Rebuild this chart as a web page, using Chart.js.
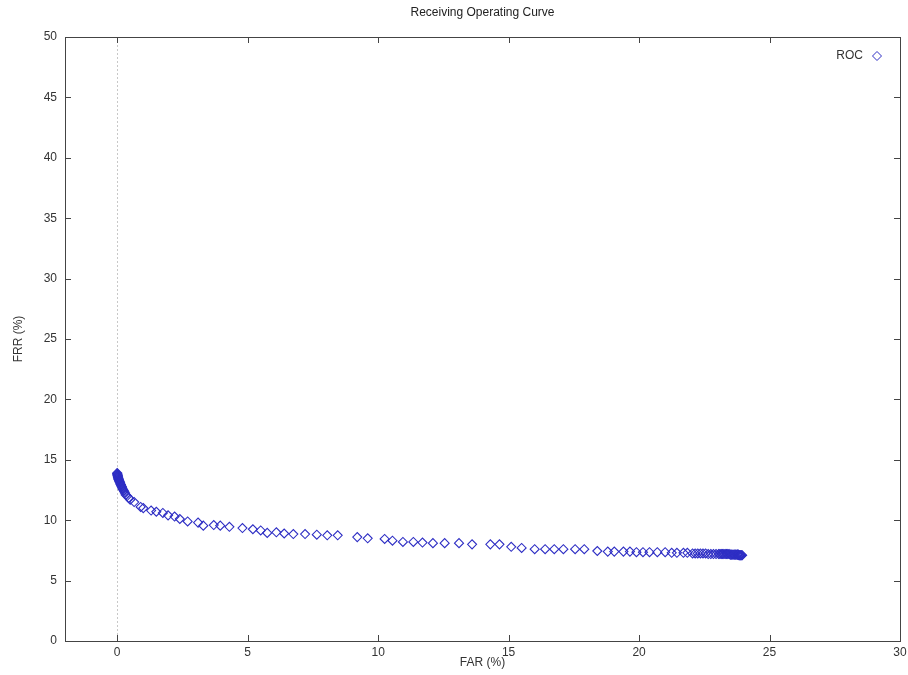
<!DOCTYPE html>
<html>
<head>
<meta charset="utf-8">
<title>Receiving Operating Curve</title>
<script src="https://cdn.jsdelivr.net/npm/chart.js@4/dist/chart.umd.min.js"></script>
<style>
  html, body { margin: 0; padding: 0; background: #fff; }
  #wrap { width: 908px; height: 675px; }
</style>
</head>
<body>
<div id="wrap"><canvas id="rocChart" width="908" height="675"></canvas></div>
<script>
// FAR (%) and FRR (%)
const far = [
  0.00, 0.00, 0.01, 0.01, 0.02, 0.02, 0.03, 0.03, 0.04, 0.05, 0.05, 0.06, 0.07, 0.08, 0.09, 0.10,
  0.11, 0.12, 0.14, 0.15, 0.17, 0.18, 0.20, 0.22, 0.25, 0.27, 0.30, 0.32, 0.38, 0.44,
  0.50, 0.65, 0.90, 1.00, 1.30, 1.50, 1.75, 1.95, 2.20, 2.40, 2.70, 3.10, 3.30, 3.70, 3.95, 4.30,
  4.80, 5.20, 5.50, 5.75, 6.10, 6.40, 6.75, 7.20, 7.65, 8.05, 8.45, 9.20, 9.60, 10.25, 10.55, 10.95,
  11.35, 11.70, 12.10, 12.55, 13.10, 13.60, 14.30, 14.65, 15.10, 15.50, 16.00, 16.40, 16.75, 17.10,
  17.55, 17.90, 18.40, 18.80, 19.05, 19.40, 19.65, 19.90, 20.15, 20.40, 20.70, 21.00, 21.25, 21.45,
  21.70, 21.85, 22.05, 22.15, 22.25, 22.35, 22.45, 22.55, 22.65, 22.75, 22.85, 22.95, 23.05, 23.10,
  23.15, 23.20, 23.25, 23.30, 23.35, 23.40, 23.45, 23.50, 23.55, 23.60, 23.65, 23.70, 23.75, 23.78,
  23.80, 23.83, 23.85, 23.88, 23.90, 23.93, 23.95
];
const frr = [
  13.9, 13.85, 13.8, 13.75, 13.7, 13.65, 13.6, 13.55, 13.5, 13.45, 13.4, 13.35, 13.3, 13.25, 13.2, 13.15,
  13.1, 13.0, 12.95, 12.9, 12.8, 12.75, 12.65, 12.55, 12.45, 12.35, 12.25, 12.1, 12.0, 11.85,
  11.7, 11.5, 11.1, 11.0, 10.8, 10.7, 10.6, 10.4, 10.3, 10.1, 9.9, 9.8, 9.55, 9.6, 9.55, 9.45,
  9.35, 9.25, 9.15, 8.95, 9.0, 8.9, 8.85, 8.85, 8.8, 8.75, 8.75, 8.6, 8.5, 8.45, 8.3, 8.2,
  8.2, 8.15, 8.1, 8.1, 8.1, 8.0, 8.0, 8.0, 7.8, 7.7, 7.6, 7.6, 7.6, 7.6,
  7.6, 7.6, 7.45, 7.4, 7.4, 7.4, 7.4, 7.35, 7.35, 7.35, 7.35, 7.35, 7.3, 7.3,
  7.3, 7.3, 7.25, 7.25, 7.25, 7.25, 7.25, 7.25, 7.2, 7.2, 7.2, 7.2, 7.2, 7.2,
  7.2, 7.2, 7.2, 7.2, 7.2, 7.2, 7.2, 7.15, 7.15, 7.15, 7.15, 7.15, 7.15, 7.15,
  7.15, 7.1, 7.1, 7.1, 7.1, 7.1, 7.1
];
const xTickValues = [0, 5, 10, 15, 20, 25, 30];
const yTickValues = [0, 5, 10, 15, 20, 25, 30, 35, 40, 45, 50];
const seriesName = "ROC";

const markerColor = "#2e2ec4";
const textFont = { family: "'Liberation Sans', Arial, sans-serif", size: 12 };

// box round the plot, inward ticks on every side, dashed line at FAR = 0, legend
const framePlugin = {
  id: "frame",
  beforeDatasetsDraw(chart) {
    const ctx = chart.ctx;
    const area = chart.chartArea;
    const x0 = Math.round(chart.scales.x.getPixelForValue(0)) + 0.5;
    ctx.save();
    ctx.strokeStyle = "#c8c8c8";
    ctx.lineWidth = 1;
    ctx.setLineDash([2, 2]);
    ctx.beginPath();
    ctx.moveTo(x0, area.top);
    ctx.lineTo(x0, area.bottom);
    ctx.stroke();
    ctx.restore();
  },
  afterDraw(chart) {
    const ctx = chart.ctx;
    const { left, right, top, bottom } = chart.chartArea;
    const xs = chart.scales.x;
    const ys = chart.scales.y;
    ctx.save();
    ctx.strokeStyle = "#444";
    ctx.lineWidth = 1;
    ctx.strokeRect(Math.round(left) + 0.5, Math.round(top) + 0.5, Math.round(right - left), Math.round(bottom - top));
    ctx.beginPath();
    xTickValues.forEach(v => {
      const px = Math.round(xs.getPixelForValue(v)) + 0.5;
      ctx.moveTo(px, bottom);
      ctx.lineTo(px, bottom - 6);
      ctx.moveTo(px, top);
      ctx.lineTo(px, top + 6);
    });
    yTickValues.forEach(v => {
      const py = Math.round(ys.getPixelForValue(v)) + 0.5;
      ctx.moveTo(left, py);
      ctx.lineTo(left + 6, py);
      ctx.moveTo(right, py);
      ctx.lineTo(right - 6, py);
    });
    ctx.stroke();

    // legend
    const ly = top + 19;
    ctx.fillStyle = "#333";
    ctx.font = "12px 'Liberation Sans', Arial, sans-serif";
    ctx.textAlign = "right";
    ctx.textBaseline = "middle";
    ctx.fillText(seriesName, right - 37, ly);
    ctx.strokeStyle = markerColor;
    ctx.beginPath();
    ctx.moveTo(right - 23, ly - 4.5);
    ctx.lineTo(right - 18.5, ly);
    ctx.lineTo(right - 23, ly + 4.5);
    ctx.lineTo(right - 27.5, ly);
    ctx.closePath();
    ctx.stroke();
    ctx.restore();
  }
};

const rocCtx = document.getElementById("rocChart").getContext("2d");

const rocChart = new Chart(rocCtx, {
  type: "scatter",
  data: {
    datasets: [{
      label: seriesName,
      data: far.map((v, i) => ({ x: v, y: frr[i] })),
      pointStyle: "rectRot",
      pointRadius: 4.5,
      pointBorderWidth: 1.1,
      borderColor: markerColor,
      backgroundColor: "rgba(255,255,255,0)",
      showLine: false
    }]
  },
  options: {
    responsive: false,
    animation: false,
    layout: { padding: { left: 0, right: 8, top: 0, bottom: 0 } },
    plugins: {
      legend: { display: false },
      tooltip: { enabled: false },
      title: {
        display: true,
        fullSize: false,
        text: "Receiving Operating Curve",
        color: "#222",
        font: { family: textFont.family, size: 12, weight: "normal" },
        padding: { top: 5, bottom: 17.6 }
      }
    },
    scales: {
      x: {
        type: "linear",
        min: -2,
        max: 30,
        afterBuildTicks: scale => { scale.ticks = xTickValues.map(v => ({ value: v })); },
        afterFit: scale => { scale.height = 34; scale.paddingLeft = 0; scale.paddingRight = 0; },
        grid: { display: false, drawTicks: false },
        border: { display: false },
        ticks: { color: "#333", font: textFont, padding: 4, maxRotation: 0, autoSkip: false },
        title: { display: true, text: "FAR (%)", color: "#333", font: textFont, padding: { top: 0, bottom: 5 } }
      },
      y: {
        type: "linear",
        min: 0,
        max: 50,
        afterBuildTicks: scale => { scale.ticks = yTickValues.map(v => ({ value: v })); },
        afterFit: scale => { scale.width = 65; scale.paddingTop = 0; scale.paddingBottom = 0; },
        grid: { display: false, drawTicks: false },
        border: { display: false },
        ticks: { color: "#333", font: textFont, padding: 8, autoSkip: false },
        title: { display: true, text: "FRR (%)", color: "#333", font: textFont, padding: { top: 11, bottom: 0 } }
      }
    }
  },
  plugins: [framePlugin]
});
</script>
</body>
</html>
